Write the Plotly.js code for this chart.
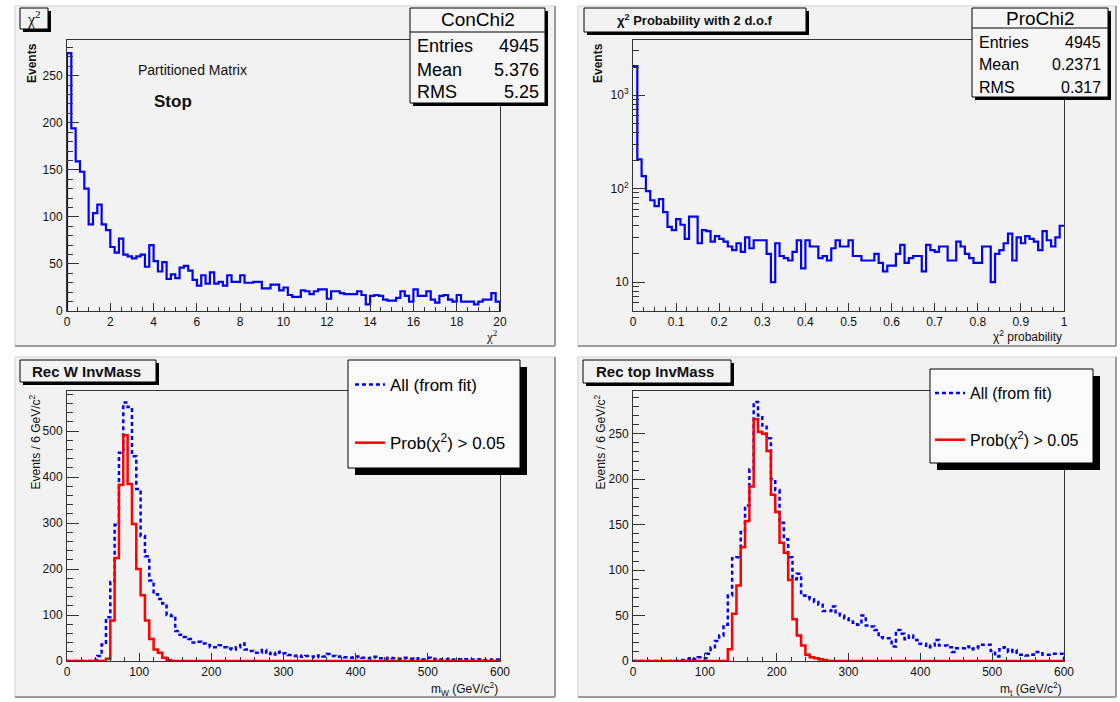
<!DOCTYPE html>
<html>
<head>
<meta charset="utf-8">
<script src="https://cdn.plot.ly/plotly-3.0.1.min.js"></script>
<style>html,body{margin:0;padding:0;background:#fff;}#chart{width:1120px;height:702px;}</style>
</head>
<body>
<div id="chart"></div>
<script>
// ---------------- data ----------------
// chi2 histogram, 100 bins over [0,20]
const chi2Range = [0, 20];
const chi2Counts = [274,194,159,148,130,92,104,113,92,86, 68,62,77,60,58,56,58,60,47,70,
  53,42,52,34,39,35,46,48,43,33, 27,38,29,41,29,31,27,38,31,31,
  38,30,30,31,31,24,24,28,28,22, 25,17,15,15,22,21,18,21,23,23,
  13,21,21,19,18,18,18,21,17,7, 16,17,16,12,11,11,14,21,16,10,
  23,16,16,21,12,9,16,17,12,10, 17,10,10,10,7,10,12,12,19,10];
// chi2 probability, 100 bins over [0,1]
const probRange = [0, 1];
const probCounts = [2040,205,136,94,75,65,77,56,39,36, 47,41,29,50,50,26,36,35,27,31,
  29,27,24,22,26,21,30,23,28,28, 28,20,10,26,19,18,17,21,28,14,
  28,24,24,18,19,17,23,28,24,24, 28,19,19,17,17,17,20,16,13,15,
  15,20,25,16,18,19,19,13,25,22, 21,24,24,17,17,27,24,20,18,16,
  16,24,24,10,20,22,26,33,17,30, 26,31,29,27,22,35,28,24,30,40];
// W invariant mass, 100 bins of 6 GeV over [0,600]
const massRange = [0, 600];
const mwAll = [0,0,0,0,0,0,2,11,36,95, 172,296,453,562,552,445,374,272,228,175,
  145,135,125,100,98,65,57,52,48,40, 42,38,35,30,30,34,30,27,25,30,
  38,25,22,18,18,24,15,18,14,20, 17,13,11,12,9,11,10,8,12,10,
  15,11,9,10,8,7,8,10,7,6, 7,9,6,5,7,6,5,5,7,5,
  4,6,4,7,5,4,3,4,5,3, 4,3,4,3,3,4,2,3,2,3];
const mwSel = [0,0,0,0,0,0,0,0,0,5, 88,224,383,491,385,298,200,143,88,48,
  25,18,7,2,0,0,0,0,0,0, 0,0,0,0,0,0,0,0,0,0,
  0,0,0,0,0,0,0,0,0,0, 0,0,0,0,0,0,0,0,0,0,
  0,0,0,0,0,0,0,0,0,0, 0,0,0,0,0,0,0,0,0,0,
  0,0,0,0,0,0,0,0,0,0, 0,0,0,0,0,0,0,0,0,0];
// top invariant mass, 100 bins of 6 GeV over [0,600]
const mtAll = [0,0,0,0,0,0,0,0,0,0, 0,1,2,3,2,4,3,8,15,22,
  28,40,72,113,114,142,171,211,285,270, 259,245,200,188,152,134,114,90,96,72,
  70,68,65,62,55,55,60,52,50,47, 45,42,40,50,39,38,34,26,25,25,
  16,34,30,24,28,23,19,19,15,17, 23,17,17,15,10,14,14,16,13,14,
  16,18,18,11,5,13,15,10,12,7, 7,6,7,10,10,7,7,8,8,8];
const mtSel = [0,0,0,0,0,0,0,0,0,0, 0,0,0,0,0,0,0,0,0,0,
  0,0,13,52,83,125,154,192,266,252, 250,231,183,164,130,119,89,46,28,17,
  7,4,3,2,1,0,0,0,0,0, 0,0,0,0,0,0,0,0,0,0,
  0,0,0,0,0,0,0,0,0,0, 0,0,0,0,0,0,0,0,0,0,
  0,0,0,0,0,0,0,0,0,0, 0,0,0,0,0,0,0,0,0,0];

// stats boxes
const stats1Name = 'ConChi2';
const stats1Labels = ['Entries', 'Mean', 'RMS'];
const stats1Values = ['4945', '5.376', '5.25'];
const stats2Name = 'ProChi2';
const stats2Labels = ['Entries', 'Mean', 'RMS'];
const stats2Values = ['4945', '0.2371', '0.317'];
const legendNames = ['All (from fit)', 'Prob(χ<sup>2</sup>) > 0.05'];
const padTitles = ['χ<sup>2</sup>', 'χ<sup>2</sup> Probability with 2 d.o.f', 'Rec W InvMass', 'Rec top InvMass'];
const log2TickVals = [10, 100, 1000];
const log2TickText = ['10', '10<sup>2</sup>', '10<sup>3</sup>'];

// ---------------- helpers ----------------
const W = 1120, H = 702;
const P = x => x / W;
const Q = y => 1 - y / H;
const FONT = '"Liberation Sans", Arial, Helvetica, sans-serif';

function steps(counts, range, closed) {
  const n = counts.length, w = (range[1] - range[0]) / n;
  const x = [], y = [];
  if (closed) { x.push(range[0]); y.push(0); }
  for (let i = 0; i < n; i++) { x.push(range[0] + i * w); y.push(counts[i]); }
  x.push(range[1]); y.push(counts[n - 1]);
  if (closed) { x.push(range[1]); y.push(0); }
  return {x, y};
}

const BLUE = '#0000ff', RED = '#ff0000';
const traces = [];
let s = steps(chi2Counts, chi2Range, true);
traces.push({type:'scatter', mode:'lines', x:s.x, y:s.y, xaxis:'x', yaxis:'y', showlegend:false, hoverinfo:'skip',
  line:{shape:'hv', color:BLUE, width:2.2}});
s = steps(probCounts, probRange, false);
traces.push({type:'scatter', mode:'lines', x:s.x, y:s.y, xaxis:'x2', yaxis:'y2', showlegend:false, hoverinfo:'skip',
  line:{shape:'hv', color:BLUE, width:2.2}});
s = steps(mwAll, massRange, true);
traces.push({type:'scatter', mode:'lines', x:s.x, y:s.y, xaxis:'x3', yaxis:'y3', name:legendNames[0], legend:'legend', legendgroup:'a', hoverinfo:'skip',
  line:{shape:'hv', color:BLUE, width:2.5, dash:'4px,3px'}});
s = steps(mwSel, massRange, true);
traces.push({type:'scatter', mode:'lines', x:s.x, y:s.y, xaxis:'x3', yaxis:'y3', name:legendNames[1], legend:'legend', legendgroup:'b', hoverinfo:'skip',
  line:{shape:'hv', color:RED, width:2.5}});
s = steps(mtAll, massRange, true);
traces.push({type:'scatter', mode:'lines', x:s.x, y:s.y, xaxis:'x4', yaxis:'y4', name:legendNames[0], legend:'legend2', legendgroup:'c', hoverinfo:'skip',
  line:{shape:'hv', color:BLUE, width:2.5, dash:'4px,3px'}});
s = steps(mtSel, massRange, true);
traces.push({type:'scatter', mode:'lines', x:s.x, y:s.y, xaxis:'x4', yaxis:'y4', name:legendNames[1], legend:'legend2', legendgroup:'d', hoverinfo:'skip',
  line:{shape:'hv', color:RED, width:2.5}});

// ---------------- axes ----------------
const tickFont = {family:FONT, size:12, color:'#111'};
function xa(domain, range, dtick, minor, anchor) {
  return {domain, range, anchor, dtick, tick0:0, ticks:'inside', ticklen:8, tickwidth:1, tickcolor:'#333',
    minor:{dtick:minor, tick0:0, ticks:'inside', ticklen:4, tickcolor:'#333', tickwidth:1},
    showline:true, linecolor:'#333', linewidth:1, mirror:true, showgrid:false, zeroline:false,
    tickfont:tickFont, fixedrange:true, ticklabelstandoff:0};
}
function ya(domain, range, dtick, minor, anchor) {
  return {domain, range, anchor, dtick, tick0:0, ticks:'inside', ticklen:12, tickwidth:1, tickcolor:'#333',
    minor:{dtick:minor, tick0:0, ticks:'inside', ticklen:6, tickcolor:'#333', tickwidth:1},
    showline:true, linecolor:'#333', linewidth:1, mirror:true, showgrid:false, zeroline:false,
    tickfont:tickFont, fixedrange:true, ticklabelstandoff:1};
}
const topY = [Q(311), Q(40)], botY = [Q(661), Q(391)];
const leftX = [P(67), P(500)], rightX = [P(633), P(1064)];

const logMinor = [];
[1, 10, 100, 1000].forEach(d => { for (let k = 2; k <= 9; k++) logMinor.push(k * d); });

const layout = {
  width:W, height:H, autosize:false, margin:{l:0, r:0, t:0, b:0},
  paper_bgcolor:'#ffffff', plot_bgcolor:'rgba(0,0,0,0)',
  font:{family:FONT, color:'#111'},
  xaxis: xa(leftX, chi2Range, 2, 0.5, 'y'),
  yaxis: ya(topY, [0, 288], 50, 10, 'x'),
  xaxis2: xa(rightX, probRange, 0.1, 0.025, 'y2'),
  yaxis2: Object.assign(ya(topY, [0.69, 3.59], null, null, 'x2'), {type:'log', tickvals:log2TickVals, ticktext:log2TickText,
    minor:{tickvals:logMinor, ticks:'inside', ticklen:6, tickcolor:'#333', tickwidth:1}}),
  xaxis3: xa(leftX, massRange, 100, 20, 'y3'),
  yaxis3: ya(botY, [0, 587], 100, 20, 'x3'),
  xaxis4: xa(rightX, massRange, 100, 20, 'y4'),
  yaxis4: ya(botY, [0, 297], 50, 10, 'x4'),
  legend: {x:P(350), y:Q(367), xanchor:'left', yanchor:'top', bgcolor:'rgba(0,0,0,0)', borderwidth:0,
    font:{family:FONT, size:17, color:'#000'}, traceorder:'grouped', tracegroupgap:33, itemwidth:30},
  legend2: {x:P(930), y:Q(376), xanchor:'left', yanchor:'top', bgcolor:'rgba(0,0,0,0)', borderwidth:0,
    font:{family:FONT, size:16, color:'#000'}, traceorder:'grouped', tracegroupgap:23, itemwidth:30},
  shapes: [], annotations: []
};
delete layout.yaxis2.dtick;

// ---------------- decorations ----------------
const shapes = layout.shapes, anns = layout.annotations;
function rect(x0, y0, x1, y1, fill, lc, lw, layer) {
  shapes.push({type:'rect', xref:'paper', yref:'paper', x0:P(x0), x1:P(x1), y0:Q(y1), y1:Q(y0),
    fillcolor:fill, line:{color:lc, width:lw}, layer:layer || 'above'});
}
function line(x0, y0, x1, y1, c, w, layer) {
  shapes.push({type:'line', xref:'paper', yref:'paper', x0:P(x0), x1:P(x1), y0:Q(y0), y1:Q(y1),
    line:{color:c, width:w}, layer:layer || 'above'});
}
function ann(text, x, y, o) {
  o = o || {};
  anns.push(Object.assign({text, x:P(x), y:Q(y), xref:'paper', yref:'paper', showarrow:false,
    xanchor:'center', yanchor:'middle', font:{family:FONT, size:12, color:'#111'}}, o));
}
function shadowBox(x0, y0, x1, y1, off, fill) {
  rect(x0 + off, y0 + off, x1 + off, y1 + off, '#000', '#000', 0);
  rect(x0, y0, x1, y1, fill, '#000', 1);
}

// pads
[[15, 6, 555, 346], [578, 6, 1116, 346], [15, 357, 555, 697], [578, 357, 1116, 697]].forEach(p => {
  rect(p[0], p[1], p[2], p[3], '#f2f2f2', '#d0d0d0', 1, 'below');
  line(p[0], p[3], p[2], p[3], '#9a9a9a', 2, 'below');
  line(p[2], p[1], p[2], p[3], '#9a9a9a', 2, 'below');
});

// pad titles
shadowBox(20, 8, 48, 29, 3, '#f2f2f2');
ann(padTitles[0], 34, 18.5, {font:{family:'"Liberation Serif", "DejaVu Serif", serif', size:16, color:'#111'}});
shadowBox(584, 8, 806, 32, 3, '#f2f2f2');
ann(padTitles[1], 695, 20, {font:{family:FONT, size:13, color:'#111', weight:'bold'}});
shadowBox(20, 360, 156, 382, 3, '#f2f2f2');
ann(padTitles[2], 86, 371, {font:{family:FONT, size:15, color:'#111', weight:'bold'}});
shadowBox(583, 360, 731, 383, 3, '#f2f2f2');
ann(padTitles[3], 655, 371.5, {font:{family:FONT, size:15, color:'#111', weight:'bold'}});

// stats boxes
shadowBox(410, 8, 545, 103, 3, '#f6f6f6');
line(410, 32, 545, 32, '#000', 1);
ann(stats1Name, 478, 20, {font:{family:FONT, size:19, color:'#000'}});
[46, 70, 92].forEach((yy, i) => {
  ann(stats1Labels[i], 415, yy, {xanchor:'left', font:{family:FONT, size:18, color:'#000'}});
  ann(stats1Values[i], 541, yy, {xanchor:'right', font:{family:FONT, size:18, color:'#000'}});
});
shadowBox(972, 8, 1108, 97, 3, '#f6f6f6');
line(972, 28, 1108, 28, '#000', 1);
ann(stats2Name, 1040, 18, {font:{family:FONT, size:19, color:'#000'}});
[42, 65, 87].forEach((yy, i) => {
  ann(stats2Labels[i], 977, yy, {xanchor:'left', font:{family:FONT, size:16, color:'#000'}});
  ann(stats2Values[i], 1103, yy, {xanchor:'right', font:{family:FONT, size:16, color:'#000'}});
});

// legend boxes (the entries are Plotly legends)
shadowBox(348, 360, 520, 468, 7, '#fafafa');
shadowBox(930, 369, 1093, 463, 7, '#fafafa');

// free texts
ann('Partitioned Matrix', 192, 70, {font:{family:FONT, size:14, color:'#111'}});
ann('Stop', 173, 101, {font:{family:FONT, size:17, color:'#111', weight:'bold'}});

// axis titles
ann('Events', 32, 41, {textangle:-90, yanchor:'top', font:{family:FONT, size:12, color:'#111', weight:'bold'}});
ann('Events', 598, 41, {textangle:-90, yanchor:'top', font:{family:FONT, size:12, color:'#111', weight:'bold'}});
ann('Events / 6 GeV/c<sup>2</sup>', 34, 393, {textangle:-90, yanchor:'top', font:{family:FONT, size:12, color:'#111'}});
ann('Events / 6 GeV/c<sup>2</sup>', 599, 393, {textangle:-90, yanchor:'top', font:{family:FONT, size:12, color:'#111'}});
ann('χ<sup>2</sup>', 500, 326, {xanchor:'right', yanchor:'top', font:{family:'"Liberation Serif", serif', size:13, color:'#111'}});
ann('χ<sup>2</sup> probability', 1064, 326, {xanchor:'right', yanchor:'top', font:{family:FONT, size:12, color:'#111'}});
ann('m<sub>W</sub> (GeV/c<sup>2</sup>)', 500, 678, {xanchor:'right', yanchor:'top', font:{family:FONT, size:12, color:'#111'}});
ann('m<sub>t</sub> (GeV/c<sup>2</sup>)', 1064, 678, {xanchor:'right', yanchor:'top', font:{family:FONT, size:12, color:'#111'}});

Plotly.newPlot('chart', traces, layout, {staticPlot:true, displayModeBar:false});
</script>
</body>
</html>
